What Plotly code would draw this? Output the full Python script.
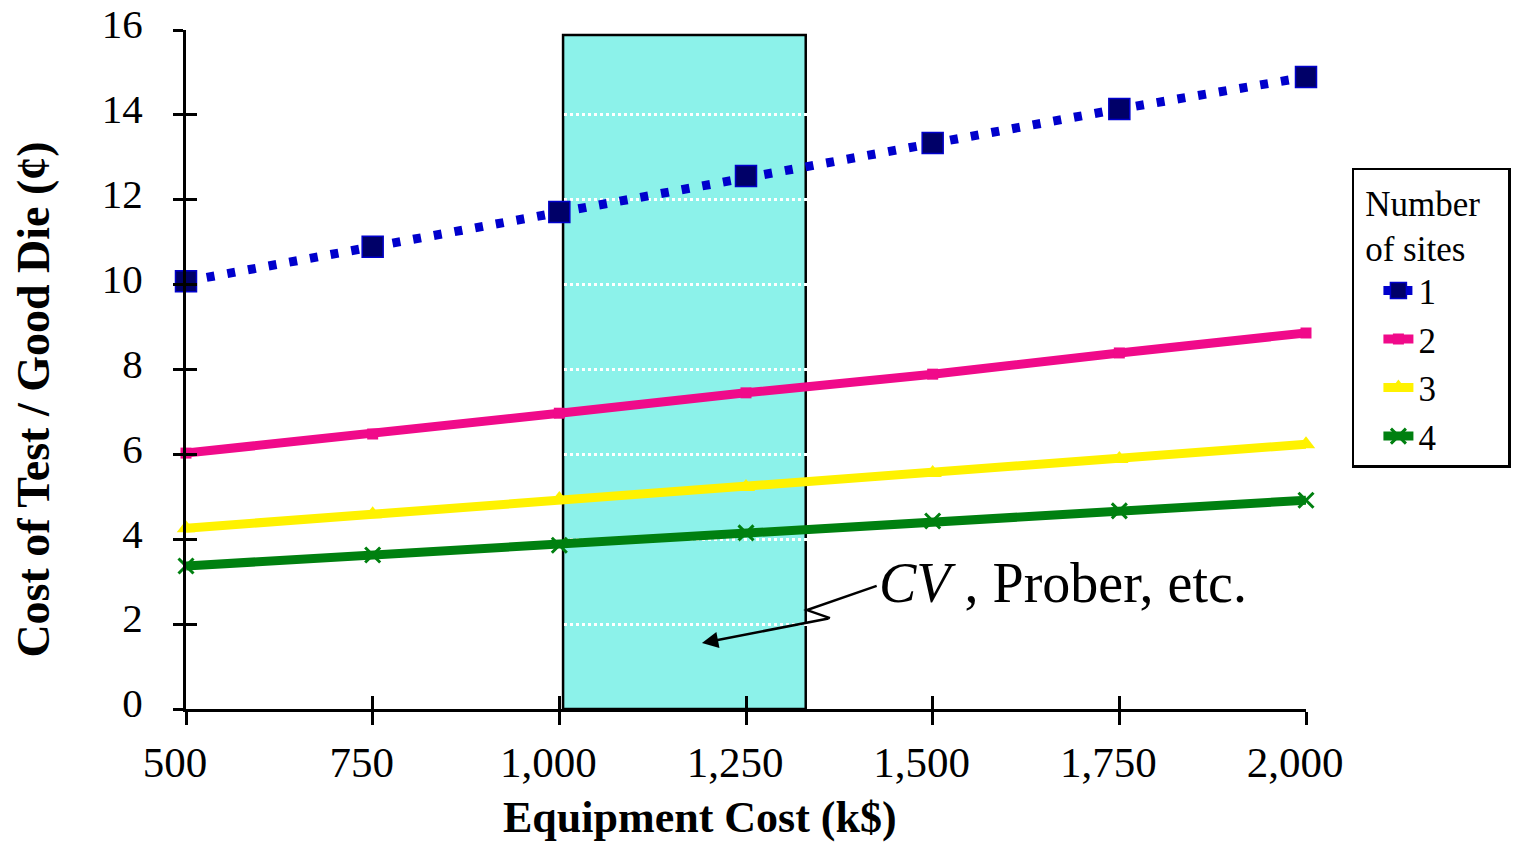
import plotly.graph_objects as go

# ---- data ----
equipment_cost = [500, 750, 1000, 1250, 1500, 1750, 2000]
sites_1 = [10.08, 10.89, 11.71, 12.56, 13.34, 14.14, 14.89]
sites_2 = [6.03, 6.48, 6.97, 7.45, 7.89, 8.39, 8.86]
sites_3 = [4.26, 4.59, 4.95, 5.23, 5.56, 5.89, 6.24]
sites_4 = [3.37, 3.63, 3.86, 4.15, 4.43, 4.67, 4.92]
series_names = ["1", "2", "3", "4"]
x_ticks = [500, 750, 1000, 1250, 1500, 1750, 2000]
y_ticks = [0, 2, 4, 6, 8, 10, 12, 14, 16]
band_range = [1005, 1330]
band_top = 15.88

SERIF = "Liberation Serif, Times New Roman, serif"
NB = "\u00a0"

fig = go.Figure()

# shaded band (CV, Prober, etc.)
fig.add_shape(type="rect", xref="x", yref="y",
              x0=band_range[0], x1=band_range[1], y0=0, y1=band_top,
              fillcolor="#8CF2EA", line=dict(color="black", width=2.5),
              layer="below")

fig.add_trace(go.Scatter(
    x=equipment_cost, y=sites_1, name=series_names[0], mode="lines+markers",
    line=dict(color="#0000CC", width=9, dash="8px,13px"),
    marker=dict(symbol="square", size=21, color="#000068",
                line=dict(color="#0000CC", width=1.5)),
    cliponaxis=False))
fig.add_trace(go.Scatter(
    x=equipment_cost, y=sites_2, name=series_names[1], mode="lines+markers",
    line=dict(color="#F00A8A", width=9),
    marker=dict(symbol="square", size=11, color="#F00A8A"),
    cliponaxis=False))
fig.add_trace(go.Scatter(
    x=equipment_cost, y=sites_3, name=series_names[2], mode="lines+markers",
    line=dict(color="#FFF200", width=9),
    marker=dict(symbol="triangle-up", size=16, color="#FFF200"),
    cliponaxis=False))
fig.add_trace(go.Scatter(
    x=equipment_cost, y=sites_4, name=series_names[3], mode="lines+markers",
    line=dict(color="#008010", width=9),
    marker=dict(symbol="x-thin", size=15, color="#008010",
                line=dict(color="#008010", width=3)),
    cliponaxis=False))

# invisible trace to carry the overlay axes (inner halves of crossing ticks)
fig.add_trace(go.Scatter(x=equipment_cost, y=sites_4, xaxis="x2", yaxis="y2",
                         mode="lines", line=dict(width=0), opacity=0,
                         showlegend=False, hoverinfo="skip"))

# annotation with zig-zag pointer
fig.add_shape(type="path", xref="x", yref="y",
              path="M 1425 2.9 L 1331.7 2.33 L 1362.5 2.14",
              line=dict(color="black", width=2.5))
fig.add_annotation(x=1191, y=1.555, ax=1362.5, ay=2.14, xref="x", yref="y",
                   axref="x", ayref="y", text="", showarrow=True,
                   arrowhead=2, arrowsize=1.3, arrowwidth=2.5,
                   arrowcolor="black")
fig.add_annotation(x=1425, y=2.97, xref="x", yref="y",
                   text="<i>CV</i> , Prober, etc.", showarrow=False,
                   xanchor="left", yanchor="middle",
                   font=dict(family=SERIF, size=56, color="black"))

# axis titles
fig.add_annotation(x=0.459, y=-0.199, xref="paper", yref="paper",
                   text="<b>Equipment Cost (k$)</b>", showarrow=False,
                   xanchor="center", yanchor="bottom",
                   font=dict(family=SERIF, size=44, color="black"))
fig.add_annotation(x=-0.137, y=0.455, xref="paper", yref="paper",
                   text="<b>Cost of Test / Good Die (¢)</b>", showarrow=False,
                   textangle=-90, xanchor="center", yanchor="middle",
                   font=dict(family=SERIF, size=46, color="black"))

fig.update_layout(
    width=1518, height=846,
    margin=dict(l=186, r=212, t=30, b=137, autoexpand=False),
    paper_bgcolor="white", plot_bgcolor="white",
    font=dict(family=SERIF, size=41, color="black"),
    showlegend=True,
    legend=dict(
        x=1.041, y=0.797, xanchor="left", yanchor="top",
        xref="paper", yref="paper",
        bordercolor="black", borderwidth=2.5, bgcolor="white",
        font=dict(family=SERIF, size=35, color="black"),
        title=dict(text=NB + "Number" + NB * 3 + "<br>" + NB + "of sites",
                   side="top",
                   font=dict(family=SERIF, size=35, color="black")),
        itemwidth=30, indentation=24,
    ),
    xaxis=dict(
        range=[500, 2000], tickvals=x_ticks, tickformat=",",
        showgrid=False, zeroline=False, automargin=False,
        showline=True, linecolor="black", linewidth=3,
        ticks="outside", ticklen=13, tickwidth=3, tickcolor="black",
        ticklabelshift=-11, ticklabelstandoff=0,
        tickfont=dict(family=SERIF, size=43, color="black"),
    ),
    yaxis=dict(
        range=[0, 16], tickvals=y_ticks,
        showgrid=True, gridcolor="white", griddash="dot", gridwidth=2.5,
        zeroline=False, automargin=False,
        showline=True, linecolor="black", linewidth=3,
        ticks="outside", ticklen=10, tickwidth=3, tickcolor="black",
        ticklabelshift=-6, ticklabelstandoff=22,
        tickfont=dict(family=SERIF, size=41, color="black"),
    ),
    xaxis2=dict(
        overlaying="x", matches="x", anchor="y2", range=[500, 2000],
        tickvals=x_ticks, showticklabels=False, showgrid=False,
        zeroline=False, showline=False, side="bottom", automargin=False,
        ticks="inside", ticklen=13, tickwidth=3, tickcolor="black",
    ),
    yaxis2=dict(
        overlaying="y", matches="y", anchor="x2", range=[0, 16],
        tickvals=y_ticks, showticklabels=False, showgrid=False,
        zeroline=False, showline=False, side="left", automargin=False,
        ticks="inside", ticklen=11, tickwidth=3, tickcolor="black",
    ),
)

fig.write_html("out.html")
